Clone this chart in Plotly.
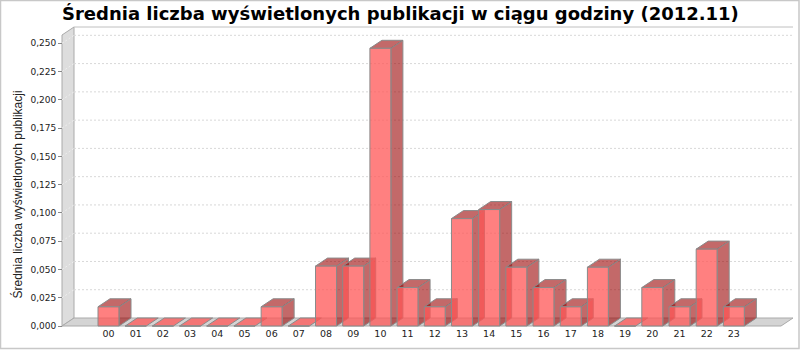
import plotly.graph_objects as go

# ---------------- data ----------------
hours = ["00", "01", "02", "03", "04", "05", "06", "07", "08", "09", "10", "11",
         "12", "13", "14", "15", "16", "17", "18", "19", "20", "21", "22", "23"]
values = [0.017, 0.0, 0.0, 0.0, 0.0, 0.0, 0.017, 0.0, 0.053, 0.053, 0.2456, 0.034,
          0.017, 0.095, 0.103, 0.052, 0.034, 0.017, 0.052, 0.0, 0.034, 0.017, 0.068, 0.017]
y_ticks = [0.0, 0.025, 0.05, 0.075, 0.1, 0.125, 0.15, 0.175, 0.2, 0.225, 0.25]
title_text = "Średnia liczba wyświetlonych publikacji w ciągu godziny (2012.11)"
y_title = "Średnia liczba wyświetlonych publikacji"

# ---------------- layout geometry (pixels) ----------------
W, H = 800, 350
PX0, PX1, PY0, PY1 = 56, 798, 20, 332      # plot area (left, right, top, bottom)
SX, X0PX = 27.19, 108.5                      # px per category, px of category 0
SY, Y0PX = 1130.7, 326                       # px per unit, px of value 0 (front)
DXPX, DYPX = 12, 8                           # 3D depth offset in px
FRONT_L, FRONT_R = 62, 781                   # front plane horizontal extent
BACK_TOP = 27                                # top of back wall


def dx_(px):
    return (px - X0PX) / SX


def dy_(py):
    return (Y0PX - py) / SY


def paper_x(px):
    return (px - PX0) / (PX1 - PX0)


def paper_y(py):
    return (PY1 - py) / (PY1 - PY0)


ddx = DXPX / SX
ddy = DYPX / SY
hw = 10.5 / SX
xl = dx_(FRONT_L)
xr = dx_(FRONT_R)
ytop = dy_(BACK_TOP)

fig = go.Figure()


def poly(xs, ys, fill, line="#8a8a8a", lw=1):
    fig.add_trace(go.Scatter(
        x=list(xs) + [xs[0]], y=list(ys) + [ys[0]], mode="lines", fill="toself",
        fillcolor=fill, line=dict(color=line, width=lw), hoverinfo="skip",
        showlegend=False))


# left wall
poly([xl, xl, xl + ddx, xl + ddx], [0, ytop - ddy, ytop, ddy], "#dddddd", "#aaaaaa")
# floor
poly([xl, xr, xr + ddx, xl + ddx], [0, 0, ddy, ddy], "#d4d4d4", "#aaaaaa")
# back wall top border
fig.add_trace(go.Scatter(x=[xl + ddx, xr + ddx], y=[ytop, ytop], mode="lines",
                         line=dict(color="#c0c0c0", width=1), hoverinfo="skip",
                         showlegend=False))
# gridlines on back wall and left wall
for t in y_ticks[1:]:
    fig.add_trace(go.Scatter(x=[xl + ddx, xr + ddx], y=[t + ddy, t + ddy], mode="lines",
                             line=dict(color="#d8d8d8", width=1, dash="2px,2px"),
                             hoverinfo="skip", showlegend=False))
    fig.add_trace(go.Scatter(x=[xl, xl + ddx], y=[t, t + ddy], mode="lines",
                             line=dict(color="#eeeeee", width=1, dash="2px,2px"),
                             hoverinfo="skip", showlegend=False))

FRONT = "rgba(255,85,85,0.75)"
SIDE = "rgba(153,0,0,0.59)"
for i, v in enumerate(values):
    x0, x1 = i - hw, i + hw
    # side face
    if v > 0:
        poly([x1, x1 + ddx, x1 + ddx, x1], [0, ddy, v + ddy, v], SIDE)
    # top face
    poly([x0, x0 + ddx, x1 + ddx, x1], [v, v + ddy, v + ddy, v],
         SIDE if v > 0 else FRONT)
    # front face
    poly([x0, x1, x1, x0], [0, 0, v, v], FRONT)

fig.update_layout(
    width=W, height=H,
    margin=dict(l=PX0, r=W - PX1, t=PY0, b=H - PY1),
    paper_bgcolor="white", plot_bgcolor="white",
    separators=", ",
    showlegend=False,
    font=dict(family="DejaVu Sans", color="#222222"),
    xaxis=dict(range=[dx_(PX0), dx_(PX1)], tickmode="array",
               tickvals=list(range(len(hours))), ticktext=hours,
               showgrid=False, zeroline=False, showline=False, ticks="",
               tickfont=dict(size=9.5, color="#222222"),
               anchor="free", position=paper_y(Y0PX), fixedrange=True),
    yaxis=dict(range=[dy_(PY1), dy_(PY0)], tickmode="array", tickvals=y_ticks,
               tickformat=".3f", showgrid=False, zeroline=False, showline=False,
               ticks="outside", ticklen=4, tickcolor="#888888",
               tickfont=dict(size=9, color="#222222"),
               anchor="free", position=paper_x(FRONT_L), fixedrange=True),
    annotations=[
        dict(text="<b>" + title_text + "</b>", xref="paper", yref="paper",
             x=paper_x(400), y=paper_y(13), xanchor="center", yanchor="middle",
             showarrow=False, font=dict(size=18, color="black", family="DejaVu Sans")),
        dict(text=y_title, xref="paper", yref="paper", textangle=-90,
             x=paper_x(17), y=paper_y(194.5), xanchor="center", yanchor="middle",
             showarrow=False, font=dict(size=12, color="#222222", family="Liberation Sans")),
    ],
    shapes=[
        dict(type="rect", xref="paper", yref="paper",
             x0=paper_x(0.5), x1=paper_x(799), y0=paper_y(0.5), y1=paper_y(348.5),
             line=dict(color="#c8c8c8", width=1.5), fillcolor="rgba(0,0,0,0)",
             layer="above"),
    ],
)

fig.write_html("out.html")
